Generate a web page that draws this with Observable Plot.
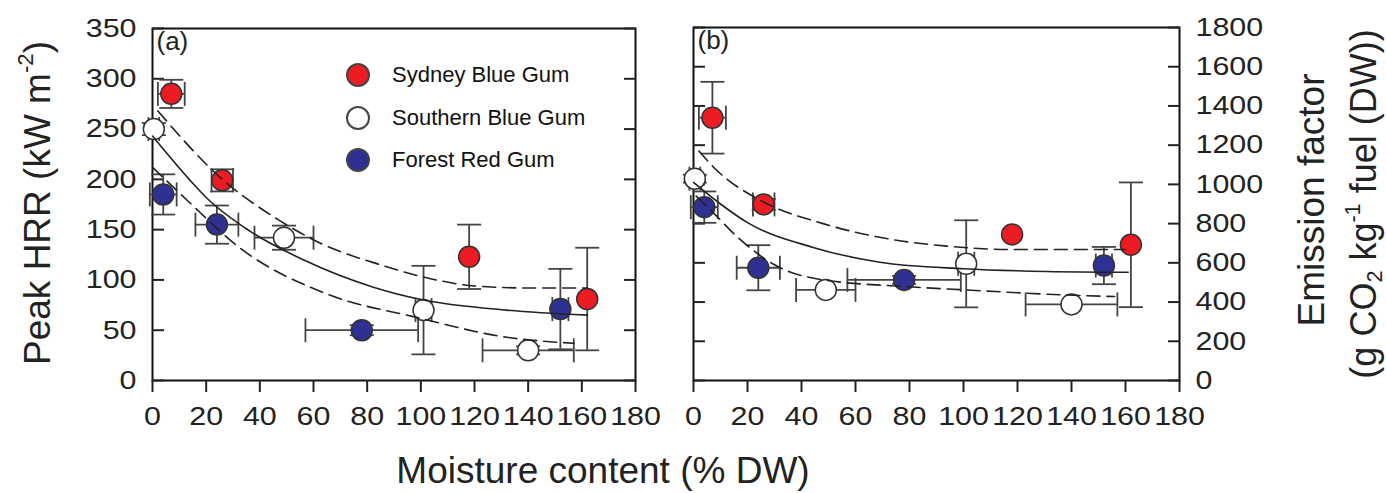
<!DOCTYPE html>
<html><head><meta charset="utf-8">
<script src="https://cdn.jsdelivr.net/npm/d3@7"></script>
<script src="https://cdn.jsdelivr.net/npm/@observablehq/plot@0.6"></script>
<style>
body{margin:0;background:#fff;font-family:"Liberation Sans",Arial,Helvetica,sans-serif;}
#wrap{position:relative;width:1386px;height:493px;overflow:hidden;background:#fff;}
#wrap svg{position:absolute;top:0;}
.lab{position:absolute;white-space:nowrap;color:#222;line-height:1;}
.rot{transform:translate(-50%,-50%) rotate(-90deg);}
.sup{font-size:0.6em;position:relative;top:-0.75em;}
.sub{font-size:0.6em;position:relative;top:0.3em;}
.leg{position:absolute;font-size:22px;color:#111;line-height:1;}
.legdot{position:absolute;width:20px;height:20px;border-radius:50%;border:2px solid #444;}
</style></head><body><div id="wrap"></div>
<script>
// ---- data ----
const species = ["Sydney Blue Gum", "Southern Blue Gum", "Forest Red Gum"];
const fills = ["#ed1c24", "#ffffff", "#2e3192"];

// moisture content (% DW) and its error
const moistureSydney = [7, 26, 118, 162];
const moistureSouthern = [0.5, 49, 101, 140];
const moistureForest = [4, 24, 78, 152];
const moistureErrSydney = [5, 4, 0, 0];
const moistureErrSouthern = [2, 11, 3, 17];
const moistureErrForest = [5, 8, 21, 3];

// (a) peak HRR (kW m-2)
const hrrSydney = [285, 199, 123, 81];
const hrrErrSydney = [14, 11, 32, 51];
const hrrSouthern = [250, 142, 70, 30];
const hrrErrSouthern = [6, 12, 44, 4];
const hrrForest = [185, 155, 50, 71];
const hrrErrForest = [20, 19, 5, 40];

// (b) emission factor (g CO2 kg-1 fuel (DW))
const efSydney = [1340, 898, 745, 692];
const efErrSydney = [183, 28, 0, 318];
const efSouthern = [1029, 462, 595, 388];
const efErrSouthern = [20, 0, 222, 0];
const efForest = [884, 575, 513, 586];
const efErrForest = [80, 115, 20, 95];

// fitted curves and confidence bands
const hrrFitX = [0, 14, 20, 36, 57, 82, 101, 132, 162];
const hrrFitY = [243, 199, 182, 149, 119, 93, 80, 70, 65];
const hrrUpperX = [2, 26, 45, 63, 85, 104, 120, 140, 162];
const hrrUpperY = [268, 200, 163, 136, 115, 101, 94, 92, 92];
const hrrLowerX = [0, 13, 32, 65, 98, 132, 157];
const hrrLowerY = [212, 179, 133, 86, 63, 43, 37];

const efFitX = [0, 10, 20, 44, 69, 100, 131, 161];
const efFitY = [1010, 900, 805, 680, 603, 570, 556, 552];
const efUpperX = [2, 8, 26, 48, 69, 94, 118, 160];
const efUpperY = [1170, 1080, 910, 800, 730, 685, 668, 668];
const efLowerX = [1, 7, 16, 30, 47, 80, 106, 131, 156];
const efLowerY = [940, 860, 735, 590, 515, 478, 458, 440, 428];

const xTicks = [0, 20, 40, 60, 80, 100, 120, 140, 160, 180];
const hrrTicks = [0, 50, 100, 150, 200, 250, 300, 350];
const efTicks = [0, 200, 400, 600, 800, 1000, 1200, 1400, 1600, 1800];

// ---- build tables ----
function rowsFor(k) {
  const M = [moistureSydney, moistureSouthern, moistureForest][k];
  const ME = [moistureErrSydney, moistureErrSouthern, moistureErrForest][k];
  const H = [hrrSydney, hrrSouthern, hrrForest][k];
  const HE = [hrrErrSydney, hrrErrSouthern, hrrErrForest][k];
  const E = [efSydney, efSouthern, efForest][k];
  const EE = [efErrSydney, efErrSouthern, efErrForest][k];
  return M.map((m, i) => ({species: species[k], fill: fills[k], m, mErr: ME[i], hrr: H[i], hrrErr: HE[i], ef: E[i], efErr: EE[i]}));
}
const rows = [...rowsFor(0), ...rowsFor(1), ...rowsFor(2)];
const line = (xs, ys) => xs.map((x, i) => ({x, y: ys[i]}));

const capH = {draw(ctx, size) { const r = Math.sqrt(size / Math.PI); ctx.moveTo(-r, 0); ctx.lineTo(r, 0); }};
const capV = {draw(ctx, size) { const r = Math.sqrt(size / Math.PI); ctx.moveTo(0, -r); ctx.lineTo(0, r); }};

const EB = "#444";
const fmt = d => String(d);
const blank = () => "";
function panel(o) {
  const yk = o.yKey, ek = o.errKey;
  const vErr = rows.filter(d => d[ek] > 0);
  const hErr = rows.filter(d => d.mErr > 0);
  return Plot.plot({
    width: o.width, height: 493,
    marginLeft: o.ml, marginRight: o.mr, marginTop: o.mt, marginBottom: 113,
    x: {domain: [0, 180]},
    y: {domain: o.yDomain},
    style: {fontFamily: "'Liberation Sans', Arial, sans-serif", fontSize: "26px", color: "#222", background: "transparent", overflow: "visible"},
    marks: [
      Plot.frame({stroke: "#111", strokeWidth: 2}),
      Plot.axisX({anchor: "bottom", ticks: xTicks, tickSize: 12, tickPadding: 14, strokeWidth: 2, tickFormat: fmt, label: null, fontSize: 26}),
      Plot.axisY({anchor: "left", ticks: o.yTicks, tickSize: -12, tickPadding: 28, strokeWidth: 2,
        tickFormat: o.side === "left" ? fmt : blank, label: null, fontSize: 26}),
      Plot.axisY({anchor: "right", ticks: o.yTicks, tickSize: -12, tickPadding: 28, strokeWidth: 2,
        tickFormat: o.side === "right" ? fmt : blank, label: null, fontSize: 26}),
      // error bars
      Plot.ruleX(vErr, {x: "m", y1: d => d[yk] - d[ek], y2: d => d[yk] + d[ek], stroke: EB, strokeWidth: 1.8}),
      Plot.dot(vErr, {x: "m", y: d => d[yk] - d[ek], symbol: capH, r: 12, stroke: EB, strokeWidth: 1.8, fill: "none"}),
      Plot.dot(vErr, {x: "m", y: d => d[yk] + d[ek], symbol: capH, r: 12, stroke: EB, strokeWidth: 1.8, fill: "none"}),
      Plot.ruleY(hErr, {y: yk, x1: d => d.m - d.mErr, x2: d => d.m + d.mErr, stroke: EB, strokeWidth: 1.8}),
      Plot.dot(hErr, {x: d => d.m - d.mErr, y: yk, symbol: capV, r: 12, stroke: EB, strokeWidth: 1.8, fill: "none"}),
      Plot.dot(hErr, {x: d => d.m + d.mErr, y: yk, symbol: capV, r: 12, stroke: EB, strokeWidth: 1.8, fill: "none"}),
      // points
      Plot.dot(rows, {x: "m", y: yk, r: 10.5, fill: "fill", stroke: "#333", strokeWidth: 1.5}),
      // fitted curve and band
      Plot.line(line(o.fitX, o.fitY), {x: "x", y: "y", curve: "monotone-x", stroke: "#222", strokeWidth: 1.6}),
      Plot.line(line(o.upX, o.upY), {x: "x", y: "y", curve: "monotone-x", stroke: "#222", strokeWidth: 1.6, strokeDasharray: "13,7"}),
      Plot.line(line(o.loX, o.loY), {x: "x", y: "y", curve: "monotone-x", stroke: "#222", strokeWidth: 1.6, strokeDasharray: "13,7"}),
      Plot.text([o.tag], {frameAnchor: "top-left", dx: 4, dy: 3, lineAnchor: "top", textAnchor: "start", fontSize: 26, fill: "#222"})
    ]
  });
}

// widen tick labels slightly (reference glyphs are wider than Arial)
function stretch(svg, k) {
  svg.querySelectorAll('g[aria-label="x-axis tick label"] text, g[aria-label="y-axis tick label"] text').forEach(t => {
    if (!t.textContent) return;
    const L = t.getComputedTextLength();
    if (L > 0) {
      t.setAttribute("textLength", (L * k).toFixed(2));
      t.setAttribute("lengthAdjust", "spacingAndGlyphs");
    }
  });
}

const wrap = document.getElementById("wrap");
const pa = panel({yKey: "hrr", errKey: "hrrErr", yDomain: [0, 350], yTicks: hrrTicks,
  fitX: hrrFitX, fitY: hrrFitY, upX: hrrUpperX, upY: hrrUpperY, loX: hrrLowerX, loY: hrrLowerY,
  width: 660, ml: 152, mr: 25, mt: 28, side: "left", tag: "(a)"});
pa.style.left = "0px";
wrap.appendChild(pa);
const pb = panel({yKey: "ef", errKey: "efErr", yDomain: [0, 1800], yTicks: efTicks,
  fitX: efFitX, fitY: efFitY, upX: efUpperX, upY: efUpperY, loX: efLowerX, loY: efLowerY,
  width: 726, ml: 33, mr: 207, mt: 27, side: "right", tag: "(b)"});
pb.style.left = "660px";
wrap.appendChild(pb);
stretch(pa, 1.17);
stretch(pb, 1.17);

// axis titles
function addLabel(html, cx, cy, size, rot) {
  const d = document.createElement("div");
  d.className = "lab" + (rot ? " rot" : "");
  d.style.left = cx + "px"; d.style.top = cy + "px"; d.style.fontSize = size + "px";
  if (!rot) d.style.transform = "translate(-50%,-50%)";
  d.innerHTML = html;
  wrap.appendChild(d);
}
addLabel('Peak HRR (kW m<span class="sup">-2</span>)', 37, 203, 37, true);
addLabel('Emission factor', 1311, 200, 37, true);
addLabel('(g CO<span class="sub">2</span> kg<span class="sup">-1</span> fuel (DW))', 1364, 204, 36, true);
addLabel('Moisture content (% DW)', 603, 470, 37, false);

// legend
species.forEach((s, i) => {
  const cy = 75 + i * 42.5;
  const c = document.createElement("div");
  c.className = "legdot";
  c.style.left = (358 - 12) + "px"; c.style.top = (cy - 12) + "px"; c.style.background = fills[i];
  wrap.appendChild(c);
  const t = document.createElement("div");
  t.className = "leg";
  t.style.left = "392px"; t.style.top = (cy - 11) + "px";
  t.textContent = s;
  wrap.appendChild(t);
});
</script></body></html>
